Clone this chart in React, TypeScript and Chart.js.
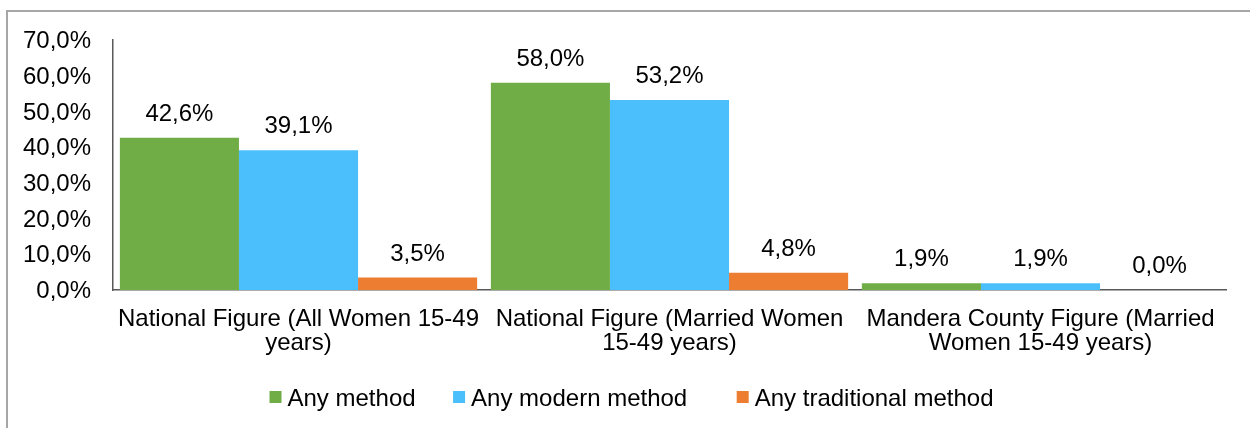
import { useEffect, useRef } from "react";
import { Chart, registerables } from "chart.js";

Chart.register(...registerables);

const categories: string[][] = [
  ["National Figure (All Women 15-49", "years)"],
  ["National Figure (Married Women", "15-49 years)"],
  ["Mandera County Figure (Married", "Women 15-49 years)"],
];
const seriesNames = ["Any method", "Any modern method", "Any traditional method"];
const anyMethod = [42.6, 58.0, 1.9];
const anyModern = [39.1, 53.2, 1.9];
const anyTraditional = [3.5, 4.8, 0.0];
const seriesColors = ["#70AD47", "#4BBFFB", "#ED7D31"];
const yMin = 0;
const yMax = 70;
const yStep = 10;

const FONT_FAMILY = '"Liberation Sans", Arial, Helvetica, sans-serif';
const FONT_SIZE = 24;
const TEXT_COLOR = "#000000";
const LEGEND_GAPS = [37.5, 49.5];

const fmt = (v: number) => v.toFixed(1).replace(".", ",") + "%";

const framePlugin = {
  id: "frame",
  beforeDraw(chart: any) {
    const ctx = chart.ctx;
    ctx.save();
    ctx.fillStyle = "#ffffff";
    ctx.fillRect(0, 0, chart.width, chart.height);
    ctx.fillStyle = "#A6A6A6";
    ctx.fillRect(6, 10, 2, chart.height - 10);
    ctx.fillRect(6, 10, chart.width - 6, 2);
    ctx.restore();
  },
};

const dataLabelPlugin = {
  id: "dataLabels",
  afterDatasetsDraw(chart: any) {
    const ctx = chart.ctx;
    ctx.save();
    ctx.font = `${FONT_SIZE}px ${FONT_FAMILY}`;
    ctx.fillStyle = TEXT_COLOR;
    ctx.textAlign = "center";
    ctx.textBaseline = "alphabetic";
    chart.data.datasets.forEach((ds: any, i: number) => {
      const meta = chart.getDatasetMeta(i);
      meta.data.forEach((el: any, j: number) => {
        const v = ds.data[j] as number;
        ctx.fillText(fmt(v), el.x, el.y - 17);
      });
    });
    ctx.restore();
  },
};

const legendPlugin = {
  id: "customLegend",
  afterDraw(chart: any) {
    const ctx = chart.ctx;
    ctx.save();
    ctx.font = `${FONT_SIZE}px ${FONT_FAMILY}`;
    ctx.textBaseline = "alphabetic";
    ctx.textAlign = "left";
    const box = 12;
    const gap = 6;
    const items = chart.data.datasets.map((ds: any) => ({
      label: ds.label as string,
      color: ds.backgroundColor as string,
      w: ctx.measureText(ds.label).width,
    }));
    const total =
      items.reduce((s: number, it: any) => s + box + gap + it.w, 0) +
      LEGEND_GAPS.reduce((s, g) => s + g, 0);
    const centerX = 631.5;
    let x = centerX - total / 2;
    const baseline = chart.chartArea.bottom + 115.5;
    items.forEach((it: any, i: number) => {
      ctx.fillStyle = it.color;
      ctx.fillRect(x, baseline - 14.5, box, box);
      ctx.fillStyle = TEXT_COLOR;
      ctx.fillText(it.label, x + box + gap, baseline);
      x += box + gap + it.w + (LEGEND_GAPS[i] ?? 0);
    });
    ctx.restore();
  },
};

export default function App() {
  const canvasRef = useRef<HTMLCanvasElement | null>(null);

  useEffect(() => {
    if (!canvasRef.current) return;
    const chart = new Chart(canvasRef.current, {
      type: "bar",
      data: {
        labels: categories,
        datasets: [
          { label: seriesNames[0], data: anyMethod, backgroundColor: seriesColors[0] },
          { label: seriesNames[1], data: anyModern, backgroundColor: seriesColors[1] },
          { label: seriesNames[2], data: anyTraditional, backgroundColor: seriesColors[2] },
        ],
      },
      options: {
        responsive: false,
        animation: false,
        devicePixelRatio: 1,
        datasets: {
          bar: {
            barPercentage: 1,
            categoryPercentage: 0.963,
            borderWidth: 0,
          },
        },
        layout: {
          padding: { top: 40, right: 24, bottom: 68, left: 0 },
        },
        plugins: {
          legend: { display: false },
          tooltip: { enabled: false },
          title: { display: false },
        },
        scales: {
          x: {
            grid: { display: false, drawTicks: false },
            border: { display: true, color: "#595959", width: 1.5 },
            ticks: {
              color: TEXT_COLOR,
              font: { family: FONT_FAMILY, size: FONT_SIZE, lineHeight: 1.01 },
              padding: 17.5,
              maxRotation: 0,
              autoSkip: false,
            },
            afterFit(scale: any) {
              scale.height = 70;
            },
          },
          y: {
            min: yMin,
            max: yMax,
            grid: { display: false, drawTicks: false },
            border: { display: true, color: "#595959", width: 1.5 },
            ticks: {
              stepSize: yStep,
              color: TEXT_COLOR,
              font: { family: FONT_FAMILY, size: FONT_SIZE },
              padding: 22,
              labelOffset: 1.5,
              callback: (v: any) => fmt(Number(v)),
            },
            afterFit(scale: any) {
              scale.width = 113;
            },
          },
        },
      },
      plugins: [framePlugin, dataLabelPlugin, legendPlugin],
    });
    return () => chart.destroy();
  }, []);

  return (
    <div style={{ position: "fixed", left: 0, top: 0, width: 1250, height: 428, overflow: "hidden", background: "#fff" }}>
      <canvas ref={canvasRef} width={1250} height={428} style={{ display: "block", width: 1250, height: 428 }} />
    </div>
  );
}
